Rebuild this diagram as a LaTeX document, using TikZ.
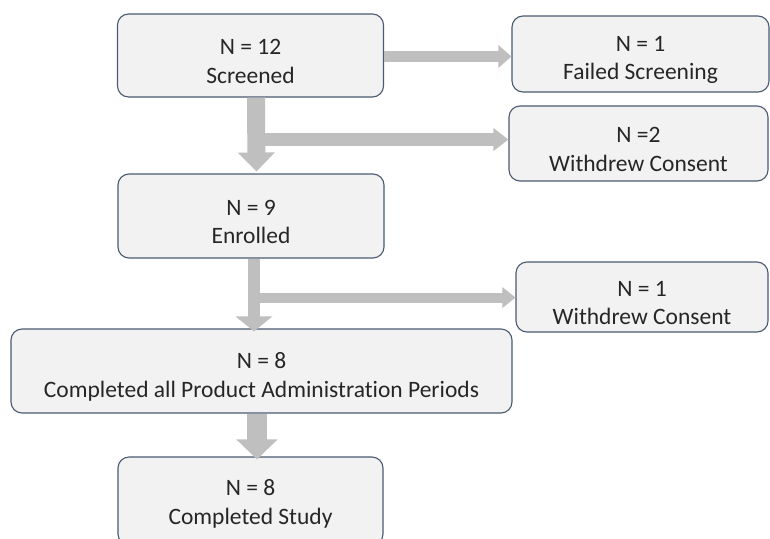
\documentclass[tikz,border=0pt]{standalone}
\usepackage{fontspec}
\setmainfont[Ligatures=NoCommon]{Carlito}
\usetikzlibrary{arrows.meta,calc}
\definecolor{boxfill}{HTML}{F2F2F2}
\definecolor{boxline}{HTML}{4A5A70}
\definecolor{arrgray}{HTML}{BFBFBF}
\definecolor{txt}{HTML}{262626}
\begin{document}
\begin{tikzpicture}[x=1pt,y=-1pt,
  stagebox/.style={draw=boxline, line width=1.1pt, fill=boxfill, rounded corners=11pt,
    inner sep=0pt},
  boxtext/.style={align=center, text=txt, inner sep=0pt, yshift=-6pt,
    font=\fontsize{23.5}{28.5}\selectfont},
]
\useasboundingbox (0,0) rectangle (770,538);
\node[stagebox, minimum width=266pt, minimum height=83pt] (scr) at (250.5,55.5) {};
\node[boxtext] (scrt) at (scr.center) {N = 12\\Screened};
\node[stagebox, minimum width=257pt, minimum height=76pt] (fail) at (640.5,54) {};
\node[boxtext] (failt) at (fail.center) {N = 1\\Failed Screening};
\node[stagebox, minimum width=259pt, minimum height=75pt] (wd2) at (638.5,143.5) {};
\node[boxtext] (wd2t) at (wd2.center) {N =2\\Withdrew Consent};
\node[stagebox, minimum width=266pt, minimum height=84pt] (enr) at (251,216) {};
\node[boxtext] (enrt) at (enr.center) {N = 9\\Enrolled};
\node[stagebox, minimum width=252pt, minimum height=70pt] (wd3) at (642,297) {};
\node[boxtext] (wd3t) at (wd3.center) {N = 1\\Withdrew Consent};
\node[stagebox, minimum width=501pt, minimum height=84pt] (comp) at (261.5,371) {};
\node[boxtext] (compt) at (comp.center) {N = 8\\Completed all Product Administration Periods};
\node[stagebox, minimum width=265pt, minimum height=88pt] (study) at (250.5,501) {};
\node[boxtext] (studyt) at ($(study.center)+(0,-3)$) {N = 8\\Completed Study};

% Screened -> Failed
\coordinate (a1s) at ($(scr.east)+(0,1)$);
\draw[draw=arrgray, line width=11pt, -{Triangle[width=22pt,length=13pt]}, arrgray] (a1s) -- (fail.west |- a1s);
% Screened -> Enrolled
\coordinate (v1s) at ($(scr.south)+(5.5,0)$);
\coordinate (v1e) at ($(enr.north)+(5.5,-2)$);
\coordinate (b1s) at ($(v1s)+(0,42)$);
\draw[draw=arrgray, line width=13pt, -{Triangle[width=22pt,length=15pt]}, arrgray] (b1s) -- (wd2.west |- b1s);
\draw[draw=arrgray, line width=18pt, -{Triangle[width=36pt,length=19pt]}, arrgray] (v1s) -- (v1e);
% Enrolled -> Completed all
\coordinate (v2s) at ($(enr.south)+(3,0)$);
\coordinate (v2e) at ($(comp.north)+(-8,3)$);
\coordinate (v2e) at (v2s |- v2e);
\coordinate (b2s) at ($(v2s)+(0,39)$);
\draw[draw=arrgray, line width=10pt, -{Triangle[width=20pt,length=13pt]}, arrgray] (b2s) -- (wd3.west |- b2s);
\draw[draw=arrgray, line width=12pt, -{Triangle[width=36pt,length=15pt]}, arrgray] (v2s) -- (v2e);
% Completed all -> Study
\coordinate (v3s) at ($(comp.south)+(-4.5,0)$);
\coordinate (v3e) at ($(study.north)+(6.5,3)$);
\coordinate (v3e) at (v3s |- v3e);
\draw[draw=arrgray, line width=20pt, -{Triangle[width=40pt,length=20pt]}, arrgray] (v3s) -- (v3e);
\end{tikzpicture}
\end{document}
